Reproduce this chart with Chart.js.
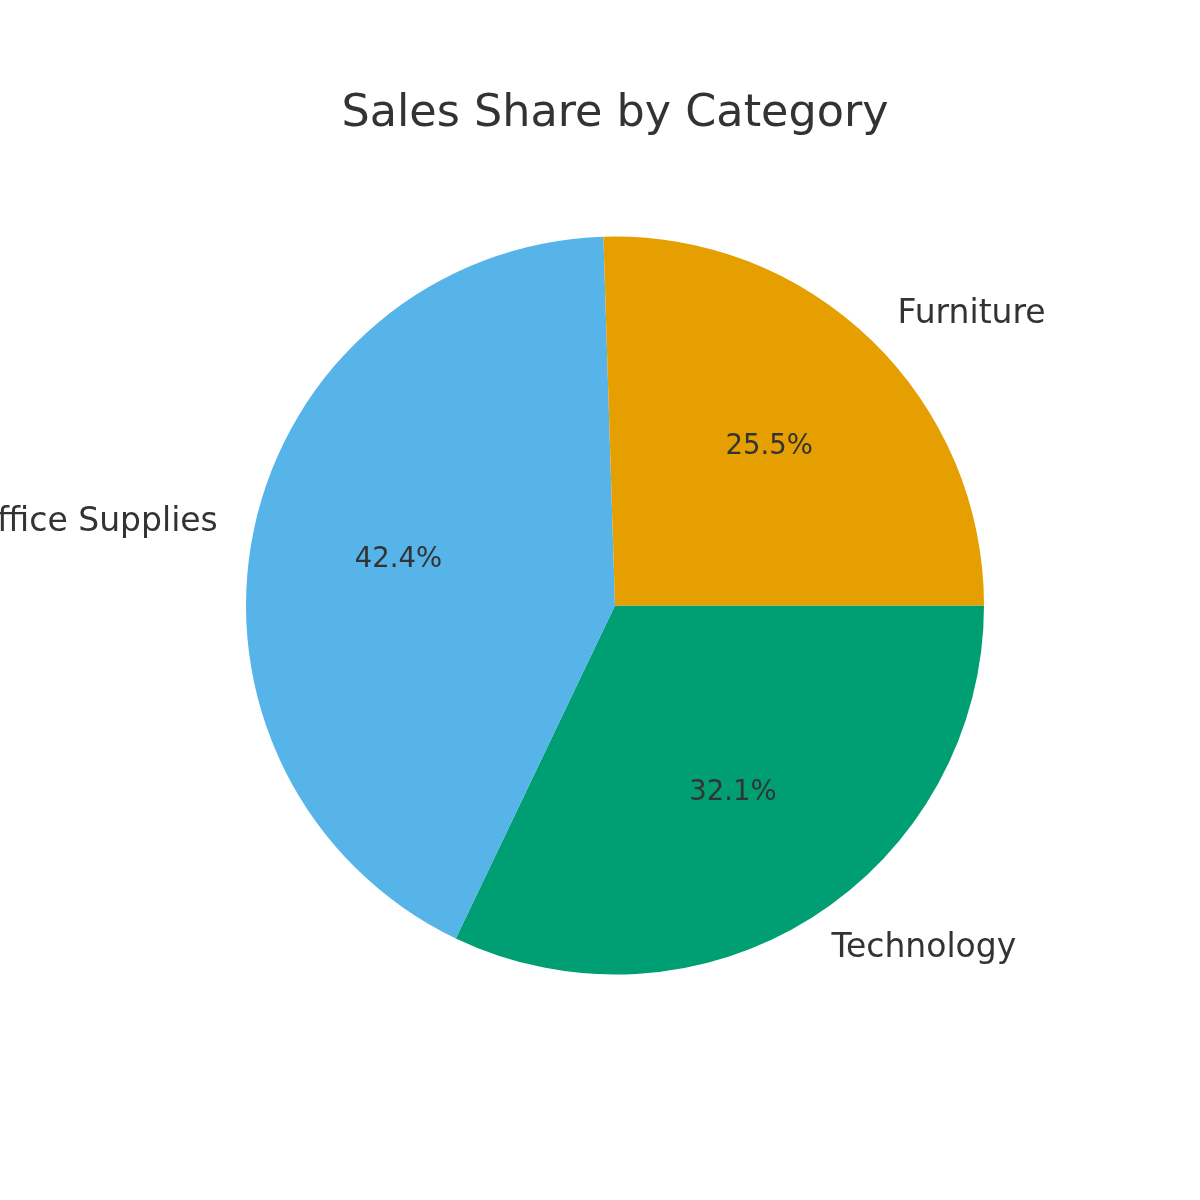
<!DOCTYPE html>
<html>
<head>
<meta charset="utf-8">
<script src="https://cdn.jsdelivr.net/npm/chart.js@4.4.0/dist/chart.umd.min.js"></script>
<style>
	html, body { margin: 0; padding: 0; background: #ffffff; }
	#wrap { width: 1200px; height: 1200px; }
</style>
</head>
<body>
<div id="wrap"><canvas id="myChartPie" width="1200" height="1200"></canvas></div>
<script>
// drawn clockwise from 3 o'clock, so order is reversed vs. the original
var categories = ['Technology', 'Office Supplies', 'Furniture'];
var shares = [32.1, 42.4, 25.5];
var colors = ['#009E73', '#56B4E9', '#E69F00'];
var chartTitle = 'Sales Share by Category';

var textColor = '#333333';
var fontFamily = '"DejaVu Sans", sans-serif';

// title, outside labels and percentages, placed from the arc elements
var pieLabels = {
	id: 'pieLabels',
	afterDraw: function (chart) {
		var ctx = chart.ctx;
		var meta = chart.getDatasetMeta(0);
		var total = shares.reduce(function (a, b) { return a + b; }, 0);
		ctx.save();
		ctx.fillStyle = textColor;

		ctx.font = '44.5px ' + fontFamily;
		ctx.textAlign = 'center';
		ctx.textBaseline = 'middle';
		var cx0 = meta.data[0].x;
		ctx.fillText(chartTitle, cx0, 114);

		meta.data.forEach(function (arc, i) {
			var mid = (arc.startAngle + arc.endAngle) / 2;
			var r = arc.outerRadius;
			var lx = arc.x + Math.cos(mid) * r * 1.1;
			var ly = arc.y + Math.sin(mid) * r * 1.1;
			ctx.font = '33px ' + fontFamily;
			ctx.textAlign = Math.cos(mid) >= 0 ? 'left' : 'right';
			ctx.textBaseline = 'middle';
			ctx.fillText(categories[i], lx, ly);

			var px = arc.x + Math.cos(mid) * r * 0.6;
			var py = arc.y + Math.sin(mid) * r * 0.6;
			ctx.font = '27.5px ' + fontFamily;
			ctx.textAlign = 'center';
			ctx.fillText((shares[i] / total * 100).toFixed(1) + '%', px, py);
		});
		ctx.restore();
	}
};

var ctx = document.getElementById('myChartPie');
var myChart = new Chart(ctx, {
	type: 'pie',
	data: {
		labels: categories,
		datasets: [
			{
				data: shares,
				backgroundColor: colors,
				borderWidth: 0,
				hoverOffset: 0,
				radius: 369,
			},
		],
	},
	options: {
		responsive: false,
		animation: false,
		rotation: 90,
		layout: {
			padding: { left: 30, top: 11, right: 0, bottom: 0 },
		},
		plugins: {
			legend: { display: false },
			tooltip: { enabled: false },
			title: { display: false },
		},
	},
	plugins: [pieLabels],
});
</script>
</body>
</html>
